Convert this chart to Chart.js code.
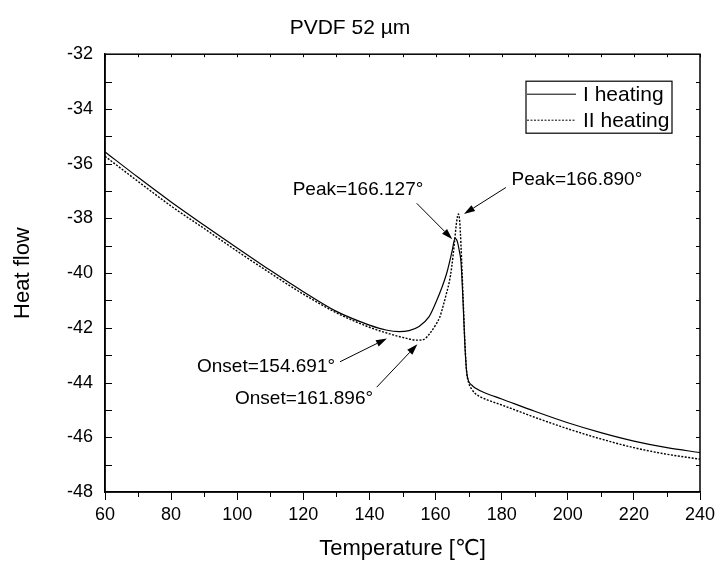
<!DOCTYPE html>
<html>
<head>
<meta charset="utf-8">
<script src="https://cdn.jsdelivr.net/npm/chart.js@4.4.0/dist/chart.umd.min.js"></script>
<style>
html, body { margin: 0; padding: 0; background: #fff; }
</style>
</head>
<body>
<canvas id="myChart" width="717" height="562"></canvas>
<script>
// data
const tempI = [60, 70, 80, 90, 100, 110, 120, 130, 140, 145, 149, 152, 155, 158, 160, 162, 163.5, 165, 165.9,
    166.6, 167.2, 167.7, 168.3, 168.9, 169.4, 170, 171, 172, 175, 180, 190, 200, 210, 220, 230, 240];
const heatI = [-35.57, -36.5, -37.4, -38.25, -39.08, -39.9, -40.68, -41.4, -41.9, -42.08, -42.14, -42.1, -41.95, -41.6, -41.1, -40.5, -39.95, -39.2, -38.73,
    -38.85, -39.2, -39.6, -41.0, -42.7, -43.6, -43.95, -44.1, -44.2, -44.38, -44.6, -45.05, -45.47, -45.83, -46.14, -46.38, -46.56];

const tempII = [60, 70, 80, 90, 100, 110, 120, 130, 140, 145, 150, 154.5, 156.5, 158.3, 160, 161.3, 162.3, 163.3, 164.2, 164.9, 165.7, 166.4, 166.9,
    167.3, 167.7, 168.3, 168.9, 169.4, 170, 171, 172, 174, 176, 180, 190, 200, 210, 220, 230, 240];
const heatII = [-35.73, -36.65, -37.55, -38.37, -39.2, -40.0, -40.77, -41.45, -41.98, -42.18, -42.35, -42.45, -42.42, -42.2, -41.9, -41.6, -41.2, -40.74, -40.3, -39.77, -38.9, -38.1, -37.84,
    -38.1, -39.0, -40.8, -42.6, -43.6, -44.0, -44.25, -44.4, -44.55, -44.65, -44.82, -45.27, -45.69, -46.06, -46.38, -46.62, -46.8];

const seriesNames = ['I heating', 'II heating'];

// annotation texts with arrow tail / tip in data units
const notes = [
    {text: 'Peak=166.127°', align: 'right', at: [156.3, -36.97], from: [154.3, -37.45], to: [165.07, -38.76]},
    {text: 'Peak=166.890°', align: 'left', at: [183.0, -36.6], from: [181.3, -36.87], to: [168.6, -37.84]},
    {text: 'Onset=154.691°', align: 'right', at: [129.6, -43.42], from: [131.1, -43.24], to: [145.3, -42.39]},
    {text: 'Onset=161.896°', align: 'right', at: [141.1, -44.61], from: [142.2, -44.17], to: [154.5, -42.6]},
];

const FONT = "'Liberation Sans', Arial, 'DejaVu Sans', sans-serif";

const toXY = (xs, ys) => xs.map((x, i) => ({x: x, y: ys[i]}));

// frame on four sides plus the small inner ticks
const frameTicks = {
    id: 'frameTicks',
    afterDraw(chart) {
        const {ctx, chartArea: a} = chart;
        const x = chart.scales.x, y = chart.scales.y;
        ctx.save();
        ctx.strokeStyle = '#000';
        ctx.lineWidth = 1.5;
        ctx.strokeRect(a.left, a.top, a.right - a.left, a.bottom - a.top);
        ctx.lineWidth = 1;
        ctx.beginPath();
        for (let t = 60; t <= 240; t += 10) {
            const px = Math.round(x.getPixelForValue(t)) + 0.5;
            ctx.moveTo(px, a.top);
            ctx.lineTo(px, a.top + 3);
            if (t % 20) {
                ctx.moveTo(px, a.bottom);
                ctx.lineTo(px, a.bottom + 5);
            }
        }
        for (let v = -47; v <= -33; v++) {
            const py = Math.round(y.getPixelForValue(v)) + 0.5;
            ctx.moveTo(a.left, py);
            ctx.lineTo(a.left + 7, py);
            ctx.moveTo(a.right, py);
            ctx.lineTo(a.right - 4, py);
        }
        ctx.stroke();
        ctx.restore();
    }
};

// boxed legend inside the plot, top right
const boxLegend = {
    id: 'boxLegend',
    afterDraw(chart) {
        const {ctx, chartArea: a} = chart;
        const x0 = a.right - 174, y0 = a.top + 27, w = 146, h = 52;
        ctx.save();
        ctx.fillStyle = '#fff';
        ctx.fillRect(x0, y0, w, h);
        ctx.strokeStyle = '#000';
        ctx.lineWidth = 1.2;
        ctx.strokeRect(x0, y0, w, h);
        chart.data.datasets.forEach((ds, i) => {
            const ly = y0 + 13 + i * 26;
            ctx.beginPath();
            ctx.setLineDash(ds.borderDash || []);
            ctx.lineWidth = 1;
            ctx.strokeStyle = '#000';
            ctx.moveTo(x0 + 1, ly);
            ctx.lineTo(x0 + 50, ly);
            ctx.stroke();
            ctx.setLineDash([]);
            ctx.fillStyle = '#000';
            ctx.font = '21px ' + FONT;
            ctx.textAlign = 'left';
            ctx.textBaseline = 'middle';
            ctx.fillText(ds.label, x0 + 57, ly + 1);
        });
        ctx.restore();
    }
};

// peak / onset labels with arrows
const arrowNotes = {
    id: 'arrowNotes',
    afterDatasetsDraw(chart) {
        const ctx = chart.ctx;
        const x = chart.scales.x, y = chart.scales.y;
        ctx.save();
        ctx.fillStyle = '#000';
        ctx.strokeStyle = '#000';
        ctx.font = '19px ' + FONT;
        ctx.textBaseline = 'middle';
        notes.forEach(n => {
            ctx.textAlign = n.align;
            ctx.fillText(n.text, x.getPixelForValue(n.at[0]), y.getPixelForValue(n.at[1]));
            const x1 = x.getPixelForValue(n.from[0]), y1 = y.getPixelForValue(n.from[1]);
            const x2 = x.getPixelForValue(n.to[0]), y2 = y.getPixelForValue(n.to[1]);
            const ang = Math.atan2(y2 - y1, x2 - x1);
            const len = 11, hw = 3.5;
            const bx = x2 - len * Math.cos(ang), by = y2 - len * Math.sin(ang);
            ctx.lineWidth = 1;
            ctx.beginPath();
            ctx.moveTo(x1, y1);
            ctx.lineTo(bx, by);
            ctx.stroke();
            ctx.beginPath();
            ctx.moveTo(x2, y2);
            ctx.lineTo(bx + hw * Math.sin(ang), by - hw * Math.cos(ang));
            ctx.lineTo(bx - hw * Math.sin(ang), by + hw * Math.cos(ang));
            ctx.closePath();
            ctx.fill();
        });
        ctx.restore();
    }
};

const data = {
    datasets: [{
        label: seriesNames[0],
        data: toXY(tempI, heatI),
        borderColor: '#000',
        borderWidth: 1.2,
        cubicInterpolationMode: 'monotone',
        pointRadius: 0,
    }, {
        label: seriesNames[1],
        data: toXY(tempII, heatII),
        borderColor: '#000',
        borderWidth: 1.4,
        borderDash: [2, 1.5],
        cubicInterpolationMode: 'monotone',
        pointRadius: 0,
    }]
};

const config = {
    type: 'line',
    data: data,
    options: {
        responsive: false,
        animation: false,
        layout: {padding: {left: 0, right: 17, top: 0, bottom: 0}},
        plugins: {
            legend: {display: false},
            tooltip: {enabled: false},
            title: {
                display: true,
                text: 'PVDF 52 µm',
                color: '#000',
                font: {family: FONT, size: 21, weight: 'normal'},
                padding: {top: 16, bottom: 13},
            },
        },
        scales: {
            x: {
                type: 'linear',
                min: 60,
                max: 240,
                afterFit(scale) {
                    scale.height = 70;
                    scale.paddingLeft = 0;
                    scale.paddingRight = 0;
                },
                ticks: {stepSize: 20, color: '#000', padding: 4, maxRotation: 0, font: {family: FONT, size: 18}},
                grid: {drawOnChartArea: false, drawTicks: true, tickLength: 8, color: '#000', lineWidth: 1},
                border: {color: '#000', width: 1.5},
                title: {
                    display: true,
                    text: 'Temperature [℃]',
                    color: '#000',
                    font: {family: FONT, size: 22},
                    padding: {top: 4, bottom: 0},
                },
            },
            y: {
                min: -48,
                max: -32,
                afterFit(scale) { scale.width = 105; },
                ticks: {stepSize: 2, color: '#000', padding: 12, font: {family: FONT, size: 18}},
                grid: {drawOnChartArea: false, drawTicks: false, color: '#000'},
                border: {color: '#000', width: 1.5},
                title: {
                    display: true,
                    text: 'Heat flow',
                    color: '#000',
                    font: {family: FONT, size: 22},
                    padding: {top: 10, bottom: 0},
                },
            },
        },
    },
    plugins: [arrowNotes, frameTicks, boxLegend],
};

new Chart(document.getElementById('myChart'), config);
</script>
</body>
</html>
